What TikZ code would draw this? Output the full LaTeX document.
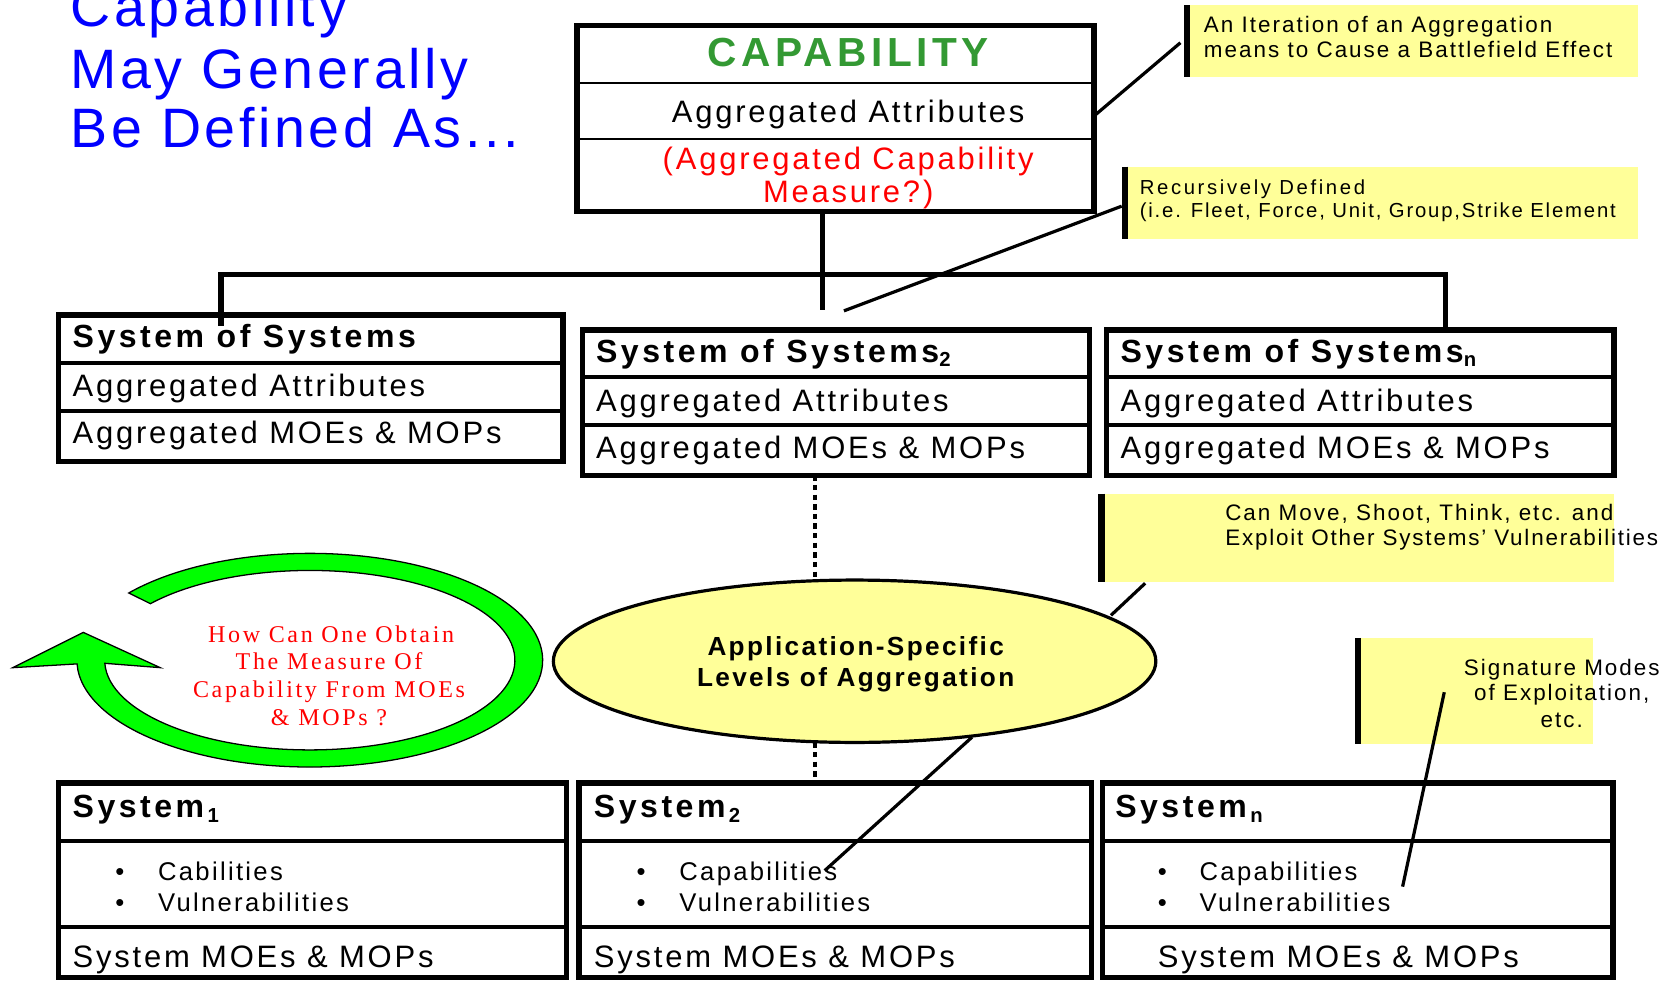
\documentclass[tikz,border=0pt]{standalone}
\usepackage{fontspec}
\setmainfont{Liberation Sans}
\newfontfamily\LS{Liberation Sans}[LetterSpace=9]
\newfontfamily\LSb{Liberation Sans}[LetterSpace=11]
\newfontfamily\LSt{Liberation Sans}[LetterSpace=6.5]
\newfontfamily\LSr{Liberation Serif}[LetterSpace=11]
\usetikzlibrary{shapes.geometric}
\definecolor{titleblue}{RGB}{0,0,255}
\definecolor{capgreen}{RGB}{51,153,51}
\definecolor{noteyellow}{RGB}{255,255,153}
\definecolor{arrowgreen}{RGB}{0,255,0}
\newcommand\setfs[1]{\fontsize{#1}{#1}\selectfont}
\begin{document}
\begin{tikzpicture}[x=1pt,y=-1pt,
  every node/.style={inner sep=0pt, outer sep=0pt},
  titletext/.style={anchor=base west, text=titleblue, font=\LSt\setfs{52}},
  bigframe/.style={draw, line width=5pt, fill=white, anchor=north west},
  thindiv/.style={line width=2pt},
  thickdiv/.style={line width=4pt},
  boxtext/.style={anchor=base west, font=\LS\setfs{29}},
  boxtitle/.style={anchor=base west, font=\LSb\bfseries\setfs{30}},
  bullettext/.style={anchor=base west, font=\LS\setfs{24}},
  note/.style={fill=noteyellow, anchor=north west},
  notebar/.style={line width=6pt},
  notetext/.style={anchor=base west, font=\LS\setfs{#1}},
  redq/.style={anchor=base, text=red, font=\LSr\setfs{22.5}},
  bus/.style={line width=5pt},
  dotline/.style={line width=4pt, dash pattern=on 5pt off 4pt},
  cline/.style={line width=3pt}]
\useasboundingbox (0,0) rectangle (1568,922);

% ---- title
\node[titletext] (t1) at (66,25) {Capability};
\node[titletext] (t2) at (66,83) {May Generally};
\node[titletext] (t3) at (66,138) {Be Defined As...};

% ---- capability box
\node[bigframe, minimum width=484pt, minimum height=174pt] (cap) at (540,24) {};
\draw[thindiv] (cap.west |- 0,78) -- (cap.east |- 0,78);
\draw[thindiv] (cap.west |- 0,130) -- (cap.east |- 0,130);
\node[anchor=base, text=capgreen, font=\LSb\bfseries\setfs{38}] (captitle) at (794,62) {CAPABILITY};
\node[anchor=base, font=\LS\setfs{29}] (capattr) at (794,115) {Aggregated Attributes};
\node[anchor=base, text=red, font=\LS\setfs{29}] (capm1) at (794,159) {(Aggregated Capability};
\node[anchor=base, text=red, font=\LS\setfs{29}] (capm2) at (794,190) {Measure?)};

% ---- notes (top right)
\node[note, minimum width=425pt, minimum height=67pt] (co1) at (1108,5) {};
\draw[notebar] ([xshift=3pt]co1.north west) -- ([xshift=3pt]co1.south west);
\node[notetext=21] (co1a) at (1127,30) {An Iteration of an Aggregation};
\node[notetext=21] (co1b) at (1127,54) {means to Cause a Battlefield Effect};

\node[note, minimum width=483pt, minimum height=68pt] (co2) at (1050,156) {};
\draw[notebar] ([xshift=3pt]co2.north west) -- ([xshift=3pt]co2.south west);
\node[notetext=19] (co2a) at (1067,182) {\addfontfeature{LetterSpace=13}Recursively Defined};
\node[notetext=19] (co2b) at (1067,204) {(i.e. Fleet, Force, Unit, Group,Strike Element};

% ---- systems of systems
\node[bigframe, minimum width=472pt, minimum height=137pt] (sos1) at (55,295) {};
\draw[thickdiv] (sos1.west |- 0,340) -- (sos1.east |- 0,340);
\draw[thickdiv] (sos1.west |- 0,385) -- (sos1.east |- 0,385);
\node[boxtitle] (sos1t) at (68,325) {System of Systems};
\node[boxtext] (sos1a) at (68,371) {Aggregated Attributes};
\node[boxtext] (sos1m) at (68,415) {Aggregated MOEs \& MOPs};

\node[bigframe, minimum width=475pt, minimum height=136pt] (sos2) at (545,309) {};
\draw[thickdiv] (sos2.west |- 0,353) -- (sos2.east |- 0,353);
\draw[thickdiv] (sos2.west |- 0,398) -- (sos2.east |- 0,398);
\node[boxtitle] (sos2t) at (558,339) {System of Systems\raisebox{-4pt}{\setfs{19}2}};
\node[boxtext] (sos2a) at (558,385) {Aggregated Attributes};
\node[boxtext] (sos2m) at (558,429) {Aggregated MOEs \& MOPs};

\node[bigframe, minimum width=475pt, minimum height=136pt] (sosn) at (1036,309) {};
\draw[thickdiv] (sosn.west |- 0,353) -- (sosn.east |- 0,353);
\draw[thickdiv] (sosn.west |- 0,398) -- (sosn.east |- 0,398);
\node[boxtitle] (sosnt) at (1049,339) {System of Systems\raisebox{-4pt}{\setfs{19}n}};
\node[boxtext] (sosna) at (1049,385) {Aggregated Attributes};
\node[boxtext] (sosnm) at (1049,429) {Aggregated MOEs \& MOPs};

% ---- note (middle right)
\node[note, minimum width=483pt, minimum height=83pt] (co3) at (1028,462) {};
\draw[notebar] ([xshift=3pt]co3.north west) -- ([xshift=3pt]co3.south west);
\node[notetext=21] (co3a) at (1147,487) {Can Move, Shoot, Think, etc. and};
\node[notetext=21] (co3b) at (1147,511) {\addfontfeature{LetterSpace=8}Exploit Other Systems’ Vulnerabilities};

% ---- ellipse
\node[ellipse, draw, line width=3pt, fill=noteyellow, minimum width=564pt, minimum height=152pt] (ell) at (800,619) {};
\node[anchor=base, font=\LS\bfseries\setfs{24.5}] (ella) at (801,614) {Application-Specific};
\node[anchor=base, font=\LS\bfseries\setfs{24.5}] (ellb) at (801,643) {Levels of Aggregation};

% ---- note (lower right)
\node[note, minimum width=223pt, minimum height=99pt] (co4) at (1268,597) {};
\draw[notebar] ([xshift=3pt]co4.north west) -- ([xshift=3pt]co4.south west);
\node[anchor=base, font=\LS\setfs{21}] (co4a) at (1462,632) {Signature Modes};
\node[anchor=base, font=\LS\setfs{21}] (co4b) at (1462,656) {of Exploitation,};
\node[anchor=base, font=\LS\setfs{21}] (co4c) at (1462,681) {etc.};

% ---- green loop arrow
\path (290,618) ++(219:218 and 100) coordinate (tailout);
\path (290,618) ++(538:192 and 84) coordinate (innerend);
\draw[line width=1.2pt, fill=arrowgreen] (tailout)
  arc[start angle=219, end angle=538, x radius=218, y radius=100]
  -- (12,625) -- (78,592) -- (150,625) -- (innerend)
  arc[start angle=538, end angle=219, x radius=192, y radius=84] -- cycle;
\node[redq] (q1) at (310,601) {How Can One Obtain};
\node[redq] (q2) at (308,627) {The Measure Of};
\node[redq] (q3) at (308,653) {Capability From MOEs};
\node[redq] (q4) at (308,679) {\& MOPs ?};

% ---- systems
\node[bigframe, minimum width=475pt, minimum height=182pt] (sys1) at (55,733) {};
\draw[thickdiv] (sys1.west |- 0,787) -- (sys1.east |- 0,787);
\draw[thickdiv] (sys1.west |- 0,868) -- (sys1.east |- 0,868);
\node[boxtitle] (sys1t) at (68,765) {System\raisebox{-5pt}{\setfs{19}\,1}};
\node[bullettext] (sys1b1) at (108,824) {•};
\node[bullettext] (sys1c) at (148,824) {Cabilities};
\node[bullettext] (sys1b2) at (108,853) {•};
\node[bullettext] (sys1v) at (148,853) {Vulnerabilities};
\node[boxtext] (sys1m) at (68,906) {System MOEs \& MOPs};

\node[bigframe, minimum width=480pt, minimum height=182pt] (sys2) at (542,733) {};
\draw[thickdiv] (sys2.west |- 0,787) -- (sys2.east |- 0,787);
\draw[thickdiv] (sys2.west |- 0,868) -- (sys2.east |- 0,868);
\node[boxtitle] (sys2t) at (556,765) {System\raisebox{-5pt}{\setfs{19}\,2}};
\node[bullettext] (sys2b1) at (596,824) {•};
\node[bullettext] (sys2c) at (636,824) {Capabilities};
\node[bullettext] (sys2b2) at (596,853) {•};
\node[bullettext] (sys2v) at (636,853) {Vulnerabilities};
\node[boxtext] (sys2m) at (556,906) {System MOEs \& MOPs};

\node[bigframe, minimum width=478pt, minimum height=182pt] (sysn) at (1032,733) {};
\draw[thickdiv] (sysn.west |- 0,787) -- (sysn.east |- 0,787);
\draw[thickdiv] (sysn.west |- 0,868) -- (sysn.east |- 0,868);
\node[boxtitle] (sysnt) at (1044,765) {System\raisebox{-5pt}{\setfs{19}\,n}};
\node[bullettext] (sysnb1) at (1084,824) {•};
\node[bullettext] (sysnc) at (1123,824) {Capabilities};
\node[bullettext] (sysnb2) at (1084,853) {•};
\node[bullettext] (sysnv) at (1123,853) {Vulnerabilities};
\node[boxtext] (sysnm) at (1084,906) {System MOEs \& MOPs};

% ---- connectors
\coordinate (busL) at (207,257);
\coordinate (busM) at (770,290);
\coordinate (busR) at (1353,257);
\draw[bus] ([yshift=-10pt]busL |- sos1.north) -- (busL) -- (busR) -- (busR |- sosn.north);
\draw[bus] (busM |- cap.south) -- (busM);
\coordinate (dx) at (763,0);
\draw[dotline] (dx |- sos2.south) -- (dx |- ell.north);
\draw[dotline] (dx |- ell.south) -- (dx |- sys2.north);

\coordinate (r1) at (1026,107);
\coordinate (r1b) at (1105,40);
\draw[cline] (r1) -- (r1b);
\coordinate (r2) at (790,291);
\coordinate (r2b) at (1050,193);
\draw[cline] (r2) -- (r2b);
\coordinate (r3) at (1040,576);
\coordinate (r3b) at (1072,546);
\draw[cline] (r3) -- (r3b);
\coordinate (r4a) at (910,690);
\coordinate (r4b) at (772,815);
\draw[cline] (r4a) -- (r4b);
\coordinate (r5a) at (1352,648);
\coordinate (r5b) at (1313,830);
\draw[cline] (r5a) -- (r5b);
\end{tikzpicture}
\end{document}
